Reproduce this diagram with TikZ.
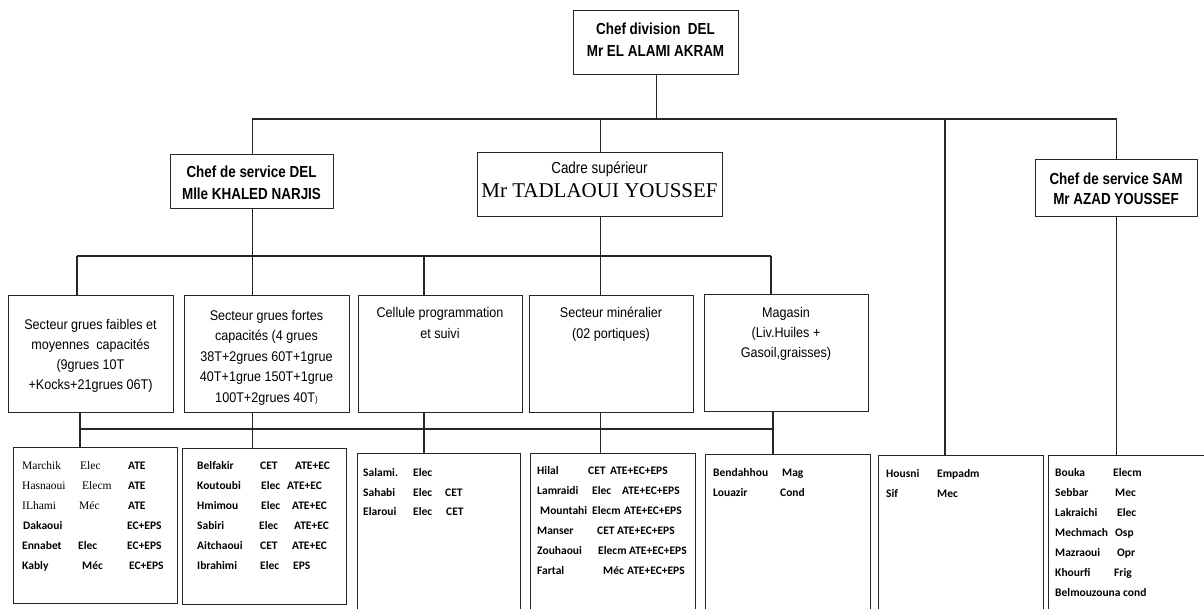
\documentclass[tikz,border=0pt]{standalone}
\usepackage{fontspec}
\setmainfont{Liberation Sans}
\newfontfamily\hdrfont[FakeStretch=0.84]{Liberation Sans}
\newfontfamily\secfont[FakeStretch=0.9]{Liberation Sans}
\newfontfamily\tmsfont{Liberation Serif}
\newfontfamily\calfont{Carlito}
\newcommand\tmx{\tmsfont\mdseries\fontsize{11.5}{13}\selectfont}
\newcommand\lrow[5]{\makebox[#1pt][l]{#3}\makebox[#2pt][l]{#4}#5}
\begin{document}
\begin{tikzpicture}[x=1pt,y=-1pt,
  box/.style={draw=black!85,line width=1.4pt,inner sep=0pt,anchor=north west},
  conn/.style={draw=black!85,line width=1.3pt},
  hdr/.style={inner sep=0pt,anchor=north,align=center,font=\hdrfont\bfseries\fontsize{16}{22}\selectfont},
  sect/.style={inner sep=0pt,anchor=north,align=center,font=\secfont\fontsize{14}{20}\selectfont},
  lst/.style={inner sep=0pt,anchor=base west,font=\calfont\bfseries\fontsize{11.5}{14}\selectfont}
]
\useasboundingbox (0,0) rectangle (1204,608);

% boxes
\node[box,minimum width=165pt,minimum height=64pt] (top) at (573,10) {};
\node[box,minimum width=163pt,minimum height=54pt] (cdel) at (170,154) {};
\node[box,minimum width=245pt,minimum height=64pt] (cad) at (477,152) {};
\node[box,minimum width=162pt,minimum height=57pt] (sam) at (1035,159) {};
\node[box,minimum width=165pt,minimum height=117pt] (s1) at (8,295) {};
\node[box,minimum width=165pt,minimum height=117pt] (s2) at (184,295) {};
\node[box,minimum width=164pt,minimum height=117pt] (s3) at (358,295) {};
\node[box,minimum width=164pt,minimum height=117pt] (s4) at (529,295) {};
\node[box,minimum width=164pt,minimum height=117pt] (s5) at (704,294) {};
\node[box,minimum width=164pt,minimum height=156pt] (bA) at (13,447) {};
\node[box,minimum width=164pt,minimum height=156pt] (bB) at (182,448) {};
\node[box,minimum width=163pt,minimum height=159pt] (bC) at (357,453) {};
\node[box,minimum width=165pt,minimum height=159pt] (bD) at (530,453) {};
\node[box,minimum width=165pt,minimum height=158pt] (bE) at (705,454) {};
\node[box,minimum width=165pt,minimum height=157pt] (bF) at (878,455) {};
\node[box,minimum width=164pt,minimum height=157pt] (bG) at (1048,455) {};

% connectors
\coordinate (h1L) at (252,119);
\coordinate (vF) at (945,119);
\draw[conn] (top.south) -- (top.south |- h1L);
\draw[conn] (h1L) -- (h1L -| sam.north);
\draw[conn] (cdel.north) -- (cdel.north |- h1L);
\draw[conn] (cad.north) -- (cad.north |- h1L);
\draw[conn] (vF) -- (vF |- bF.north);
\draw[conn] (sam.north) -- (sam.north |- h1L);
\draw[conn] (sam.south) -- (sam.south |- bG.north);

\coordinate (h2L) at (77,256);
\coordinate (v3) at (424,256);
\coordinate (h2R) at (771,256);
\draw[conn] (cdel.south) -- (cdel.south |- s2.north);
\draw[conn] (cad.south) -- (cad.south |- s4.north);
\draw[conn] (h2L) -- (h2R);
\draw[conn] (h2L) -- (h2L |- s1.north);
\draw[conn] (v3) -- (v3 |- s3.north);
\draw[conn] (h2R) -- (h2R |- s5.north);

\coordinate (h3L) at (80,429);
\coordinate (h3R) at (773,429);
\draw[conn] (h3L) -- (h3R);
\draw[conn] (h3L |- s1.south) -- (h3L |- bA.north);
\draw[conn] (cdel.south |- s2.south) -- (cdel.south |- bB.north);
\draw[conn] (v3 |- s3.south) -- (v3 |- bC.north);
\draw[conn] (cad.south |- s4.south) -- (cad.south |- bD.north);
\draw[conn] (h3R |- s5.south) -- (h3R |- bE.north);

% header texts
\node[hdr] (topT) at (655.5,20) {\rule{0pt}{14pt}Chef division\ \ DEL\\Mr EL ALAMI AKRAM};
\node[hdr] (cdelT) at (251.5,163) {\rule{0pt}{14pt}Chef de service DEL\\Mlle KHALED NARJIS};
\node[anchor=base,inner sep=0pt,font=\hdrfont\fontsize{16}{20}\selectfont] (cadT1) at (599.5,173) {Cadre supérieur};
\node[anchor=base,inner sep=0pt,font=\tmsfont\fontsize{21}{24}\selectfont] (cadT2) at (599.5,197) {Mr TADLAOUI YOUSSEF};
\node[hdr,font=\hdrfont\bfseries\fontsize{16}{20}\selectfont] (samT) at (1116,170) {\rule{0pt}{14pt}Chef de service SAM\\Mr AZAD YOUSSEF};

% section texts
\node[sect] (s1T) at (90.5,317) {\rule{0pt}{12pt}Secteur grues faibles et\\moyennes\ \ capacités\\(9grues 10T\\+Kocks+21grues 06T)};
\node[sect,font=\secfont\fontsize{14}{20.5}\selectfont] (s2T) at (266.5,308) {\rule{0pt}{12pt}Secteur grues fortes\\capacités (4 grues\\38T+2grues 60T+1grue\\40T+1grue 150T+1grue\\100T+2grues 40T{\fontsize{9}{9}\selectfont)}};
\node[sect,font=\secfont\fontsize{14}{21}\selectfont] (s3T) at (440,305) {\rule{0pt}{12pt}Cellule programmation\\et suivi};
\node[sect,font=\secfont\fontsize{14}{21}\selectfont] (s4T) at (611,305) {\rule{0pt}{12pt}Secteur minéralier\\(02 portiques)};
\node[sect] (s5T) at (786,305) {\rule{0pt}{12pt}Magasin\\(Liv.Huiles +\\Gasoil,graisses)};

% list A
\node[lst] (a1) at (22,469) {\lrow{58}{48}{\tmx Marchik}{\tmx Elec}{ATE}};
\node[lst] (a2) at (22,489) {\lrow{60}{46}{\tmx Hasnaoui}{\tmx Elecm}{ATE}};
\node[lst] (a3) at (22,509) {\lrow{57}{49}{\tmx ILhami}{\tmx Méc}{ATE}};
\node[lst] (a4) at (23,529) {\lrow{56}{48}{Dakaoui}{}{EC+EPS}};
\node[lst] (a5) at (22,549) {\lrow{56}{49}{Ennabet}{Elec}{EC+EPS}};
\node[lst] (a6) at (22,569) {\lrow{60}{47}{Kably}{Méc}{EC+EPS}};
% list B
\node[lst] (b1) at (197,469) {\lrow{63}{35}{Belfakir}{CET}{ATE+EC}};
\node[lst] (b2) at (197,489) {\lrow{64}{26}{Koutoubi}{Elec}{ATE+EC}};
\node[lst] (b3) at (197,509) {\lrow{64}{31}{Hmimou}{Elec}{ATE+EC}};
\node[lst] (b4) at (197,529) {\lrow{62}{35}{Sabiri}{Elec}{ATE+EC}};
\node[lst] (b5) at (197,549) {\lrow{63}{32}{Aitchaoui}{CET}{ATE+EC}};
\node[lst] (b6) at (197,569) {\lrow{63}{33}{Ibrahimi}{Elec}{EPS}};
% list C
\node[lst] (c1) at (363,476) {\lrow{50}{32}{Salami.}{Elec}{}};
\node[lst] (c2) at (363,496) {\lrow{50}{32}{Sahabi}{Elec}{CET}};
\node[lst] (c3) at (363,515) {\lrow{50}{33}{Elaroui}{Elec}{CET}};
% list D
\node[lst] (d1) at (537,474) {\lrow{51}{22}{Hilal}{CET}{ATE+EC+EPS}};
\node[lst] (d2) at (537,494) {\lrow{55}{30}{Lamraidi}{Elec}{ATE+EC+EPS}};
\node[lst] (d3) at (540,514) {\lrow{52}{32}{Mountahi}{Elecm}{ATE+EC+EPS}};
\node[lst] (d4) at (537,534) {\lrow{60}{20}{Manser}{CET}{ATE+EC+EPS}};
\node[lst] (d5) at (537,554) {\lrow{61}{31}{Zouhaoui}{Elecm}{ATE+EC+EPS}};
\node[lst] (d6) at (537,574) {\lrow{66}{24}{Fartal}{Méc}{ATE+EC+EPS}};
% list E
\node[lst] (e1) at (713,476) {\lrow{69}{0}{Bendahhou}{Mag}{}};
\node[lst] (e2) at (713,496) {\lrow{67}{0}{Louazir}{Cond}{}};
% list F
\node[lst] (f1) at (886,477) {\lrow{51}{0}{Housni}{Empadm}{}};
\node[lst] (f2) at (886,497) {\lrow{51}{0}{Sif}{Mec}{}};
% list G
\node[lst] (g1) at (1055,476) {\lrow{58}{0}{Bouka}{Elecm}{}};
\node[lst] (g2) at (1055,496) {\lrow{60}{0}{Sebbar}{Mec}{}};
\node[lst] (g3) at (1055,516) {\lrow{62}{0}{Lakraichi}{Elec}{}};
\node[lst] (g4) at (1055,536) {\lrow{60}{0}{Mechmach}{Osp}{}};
\node[lst] (g5) at (1055,556) {\lrow{62}{0}{Mazraoui}{Opr}{}};
\node[lst] (g6) at (1055,576) {\lrow{59}{0}{Khourfi}{Frig}{}};
\node[lst] (g7) at (1055,596) {Belmouzouna cond};
\end{tikzpicture}
\end{document}
